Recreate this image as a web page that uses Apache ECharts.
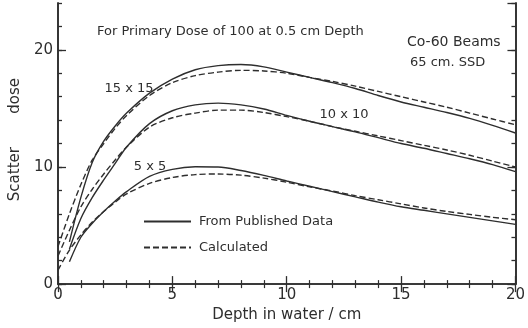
<!DOCTYPE html>
<html><head><meta charset="utf-8">
<script src="https://cdn.jsdelivr.net/npm/echarts@6/dist/echarts.min.js"></script>
<style>html,body{margin:0;padding:0;background:#fff}#c{width:528px;height:328px}</style>
</head><body><div id="c"></div>
<script>
// Depths (cm)
const depthPub  = [0.5, 1, 1.5, 2, 2.5, 3, 4, 5, 6, 7, 8, 9, 10, 11, 12, 13, 14, 15, 16, 17, 18, 19, 20];
const depthCalc = [0, 0.5, 1, 1.5, 2, 2.5, 3, 4, 5, 6, 7, 8, 9, 10, 11, 12, 13, 14, 15, 16, 17, 18, 19, 20];

// From published data (solid)
const pub15 = [3.6, 7.4, 10.4, 12.2, 13.5, 14.6, 16.3, 17.5, 18.3, 18.65, 18.75, 18.55, 18.1, 17.65, 17.2, 16.7, 16.1, 15.55, 15.1, 14.65, 14.15, 13.55, 12.9];
const pub10 = [3.0, 5.6, 7.4, 8.9, 10.3, 11.7, 13.7, 14.8, 15.3, 15.45, 15.3, 14.95, 14.4, 13.9, 13.45, 13.0, 12.5, 12.0, 11.6, 11.15, 10.7, 10.2, 9.6];
const pub5  = [1.9, 4.0, 5.2, 6.2, 7.1, 7.9, 9.2, 9.8, 10.02, 10.0, 9.7, 9.28, 8.8, 8.35, 7.9, 7.45, 7.0, 6.6, 6.3, 6.0, 5.7, 5.4, 5.1];

// Calculated (dashed)
const calc15 = [3.2, 6.0, 8.5, 10.6, 12.0, 13.3, 14.4, 16.1, 17.2, 17.8, 18.1, 18.25, 18.2, 18.0, 17.65, 17.3, 16.9, 16.45, 16.0, 15.55, 15.1, 14.6, 14.1, 13.6];
const calc10 = [2.4, 4.6, 6.6, 8.1, 9.4, 10.6, 11.7, 13.4, 14.2, 14.6, 14.85, 14.85, 14.65, 14.3, 13.9, 13.45, 13.05, 12.65, 12.25, 11.85, 11.45, 11.0, 10.5, 10.0];
const calc5  = [1.2, 2.9, 4.2, 5.3, 6.2, 7.0, 7.7, 8.6, 9.1, 9.35, 9.4, 9.3, 9.05, 8.7, 8.3, 7.95, 7.55, 7.2, 6.85, 6.5, 6.2, 5.95, 5.7, 5.5];

const seriesNames = ['From Published Data', 'Calculated'];
const xTitle = 'Depth in water / cm';
const yTitle = 'Scatter       dose';

const zip = (xs, ys) => xs.map((x, i) => [x, ys[i]]);
const ink = '#2e2e2e';
const font = 'DejaVu Sans';

function mk(name, data, dashed) {
  return {
    name, type: 'line', data, smooth: 0.3, symbol: 'none', showSymbol: false,
    lineStyle: { color: ink, width: 1.4, type: dashed ? [6, 3] : 'solid' },
    itemStyle: { color: ink },
    silent: true, animation: false
  };
}

const axisLine = { show: true, lineStyle: { color: ink, width: 1.6 } };
const baseX = {
  type: 'value', min: 0, max: 20, interval: 5,
  axisLine, splitLine: { show: false },
  axisTick: { show: true, inside: true, length: 8, lineStyle: { color: ink, width: 1.3 } },
  minorTick: { show: true, splitNumber: 5, length: 4, lineStyle: { color: ink, width: 1.2 } },
  minorSplitLine: { show: false }
};
const baseY = (interval, len, pos, labels) => ({
  type: 'value', min: 0, max: 24, interval, position: pos,
  axisLine, splitLine: { show: false },
  axisTick: { show: true, inside: true, length: len, lineStyle: { color: ink, width: 1.3 } },
  axisLabel: labels ? { show: true, color: ink, fontSize: 15, fontFamily: font, margin: 5, showMaxLabel: false } : { show: false }
});

const chart = echarts.init(document.getElementById('c'));
chart.setOption({
  backgroundColor: '#fff',
  animation: false,
  grid: { left: 57, right: 5, top: 3, bottom: 43 },
  xAxis: [
    Object.assign({}, baseX, {
      position: 'bottom',
      axisLabel: { color: ink, fontSize: 15, fontFamily: font, margin: 4 },
      name: xTitle, nameLocation: 'middle', nameGap: 22,
      nameTextStyle: { color: ink, fontSize: 15, fontFamily: font }
    }),
    Object.assign({}, baseX, { position: 'top', axisLabel: { show: false } })
  ],
  yAxis: [
    Object.assign(baseY(10, 8, 'left', true), {
      name: yTitle, nameLocation: 'middle', nameGap: 35, nameRotate: 90,
      nameTextStyle: { color: ink, fontSize: 15, fontFamily: font, padding: [0, 0, 0, 8] }
    }),
    baseY(2, 4, 'left', false),
    baseY(10, 8, 'right', false),
    baseY(2, 4, 'right', false)
  ],
  legend: {
    data: seriesNames, orient: 'vertical', left: 138, top: 210,
    itemWidth: 47, itemHeight: 14, itemGap: 13,
    itemStyle: { opacity: 0 },
    textStyle: { color: ink, fontSize: 13, fontFamily: font, padding: [0, 0, 0, 3] },
    selectedMode: false
  },
  series: [
    mk(seriesNames[0], zip(depthPub, pub15), false),
    mk(seriesNames[0], zip(depthPub, pub10), false),
    mk(seriesNames[0], zip(depthPub, pub5), false),
    mk(seriesNames[1], zip(depthCalc, calc15), true),
    mk(seriesNames[1], zip(depthCalc, calc10), true),
    mk(seriesNames[1], zip(depthCalc, calc5), true)
  ],
  graphic: [
    { type: 'text', x: 97, y: 32, style: { text: 'For Primary Dose of 100 at 0.5 cm Depth', fill: ink, font: '13px "DejaVu Sans"', textVerticalAlign: 'middle' } },
    { type: 'text', x: 407, y: 42, style: { text: 'Co-60 Beams', fill: ink, font: '14px "DejaVu Sans"', textVerticalAlign: 'middle' } },
    { type: 'text', x: 410, y: 63, style: { text: '65 cm. SSD', fill: ink, font: '13px "DejaVu Sans"', textVerticalAlign: 'middle' } },
    { type: 'text', x: 129, y: 89, style: { text: '15 x 15', fill: ink, font: '13px "DejaVu Sans"', textAlign: 'center', textVerticalAlign: 'middle' } },
    { type: 'text', x: 344, y: 115, style: { text: '10 x 10', fill: ink, font: '13px "DejaVu Sans"', textAlign: 'center', textVerticalAlign: 'middle' } },
    { type: 'text', x: 150, y: 167, style: { text: '5 x 5', fill: ink, font: '13px "DejaVu Sans"', textAlign: 'center', textVerticalAlign: 'middle' } }
  ]
});
</script>
</body></html>
